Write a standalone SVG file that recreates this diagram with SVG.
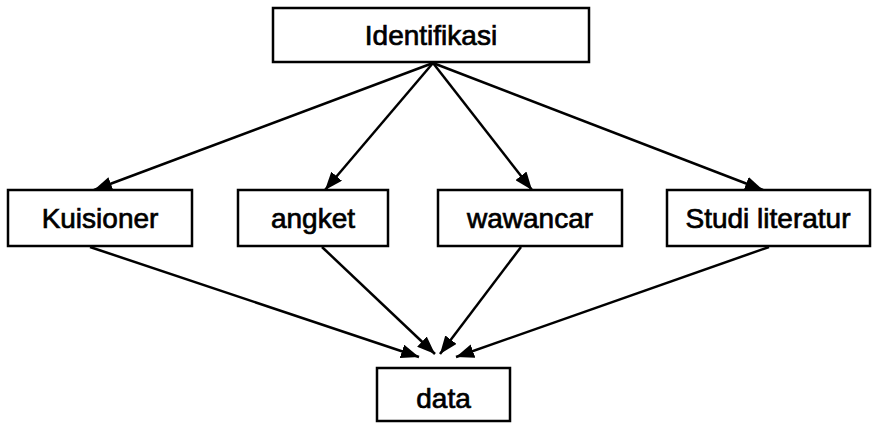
<svg xmlns="http://www.w3.org/2000/svg" width="877" height="425" viewBox="0 0 877 425">
<defs>
<marker id="ah" viewBox="0 0 18 14" refX="18" refY="7" markerWidth="18" markerHeight="14" markerUnits="userSpaceOnUse" orient="auto">
<path d="M0,0 L18,7 L0,14 Z" fill="#000"/>
</marker>
</defs>
<style>
.box{fill:#fff;stroke:#000;stroke-width:2.5}
.lbl{font-family:"Liberation Sans",Arial,sans-serif;font-size:28px;fill:#000;stroke:#000;stroke-width:0.7;text-anchor:middle}
.con{stroke:#000;stroke-width:2.5;fill:none;marker-end:url(#ah)}
</style>
<rect width="877" height="425" fill="#fff"/>
<g id="connectors">
<line class="con" x1="433" y1="63" x2="94" y2="190"/>
<line class="con" x1="433" y1="63" x2="325" y2="190"/>
<line class="con" x1="433" y1="63" x2="532" y2="190"/>
<line class="con" x1="433" y1="63" x2="763" y2="190"/>
<line class="con" x1="90" y1="247" x2="419" y2="357"/>
<line class="con" x1="322" y1="247" x2="435" y2="354"/>
<line class="con" x1="521" y1="247" x2="440" y2="354"/>
<line class="con" x1="769" y1="247" x2="456" y2="357"/>
</g>
<g id="identifikasi">
<rect class="box" x="273" y="8" width="316" height="54"/>
<text class="lbl" x="431" y="45">Identifikasi</text>
</g>
<g id="kuisioner">
<rect class="box" x="8" y="190" width="184" height="56"/>
<text class="lbl" x="100" y="228">Kuisioner</text>
</g>
<g id="angket">
<rect class="box" x="238" y="190" width="150" height="56"/>
<text class="lbl" x="313" y="228">angket</text>
</g>
<g id="wawancar">
<rect class="box" x="438" y="190" width="184" height="56"/>
<text class="lbl" x="530" y="228">wawancar</text>
</g>
<g id="studi">
<rect class="box" x="667" y="190" width="203" height="56"/>
<text class="lbl" x="768" y="228">Studi literatur</text>
</g>
<g id="data">
<rect class="box" x="377" y="368" width="133" height="53"/>
<text class="lbl" x="443.5" y="408">data</text>
</g>
</svg>
